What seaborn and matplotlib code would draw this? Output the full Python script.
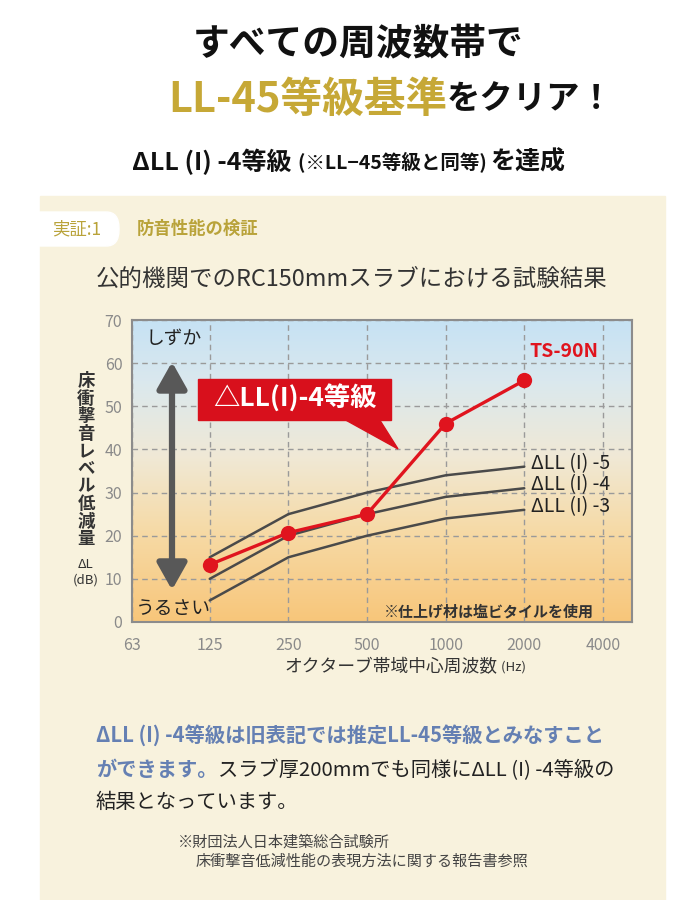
import numpy as np
import pandas as pd
import matplotlib
matplotlib.use('Agg')
import matplotlib.pyplot as plt
import seaborn as sns
from matplotlib.patches import Rectangle, Polygon, FancyBboxPatch
from matplotlib.colors import LinearSegmentedColormap
from matplotlib.ticker import NullLocator, FixedLocator

# データ
freqs = [63, 125, 250, 500, 1000, 2000, 4000]
freq_labels = ['63', '125', '250', '500', '1000', '2000', '4000']
meas_freqs = [125, 250, 500, 1000, 2000]
ts90n = [13.3, 20.7, 25.0, 46.0, 56.0]
grade_names = ['ΔLL (I) -5', 'ΔLL (I) -4', 'ΔLL (I) -3']
grade5 = [15, 25, 30, 34, 36]
grade4 = [10, 20, 25, 29, 31]
grade3 = [5, 15, 20, 24, 26]
yticks = [0, 10, 20, 30, 40, 50, 60, 70]

sns.set_theme(style='white')
plt.rcParams['font.family'] = ['Noto Sans CJK JP', 'DejaVu Sans']

W, H = 700, 900
fig = plt.figure(figsize=(7, 9), dpi=100)
fig.patch.set_facecolor('white')


def fx(px):
    return px / W


def fy(py):
    return 1 - py / H


# クリーム色のパネル
fig.patches.append(Rectangle((fx(40), 0), fx(665) - fx(40), fy(196),
                             transform=fig.transFigure, color='#f8f2dd', zorder=0))
fig.patches.append(FancyBboxPatch((fx(20), fy(246)), fx(119) - fx(20), fy(212) - fy(246),
                                  boxstyle='round,pad=0,rounding_size=0.018',
                                  transform=fig.transFigure, color='white', zorder=0.5))

renderer = fig.canvas.get_renderer()


def runs(parts, x, y, align='left'):
    # 色やサイズの違う文字列を横に並べる
    objs = []
    cx = 0
    for txt, kw in parts:
        t = fig.text(0, fy(y), txt, va='center', ha='left', **kw)
        w = t.get_window_extent(renderer).width / fig.bbox.width
        objs.append((t, cx))
        cx += w
    start = fx(x) - (cx / 2 if align == 'center' else 0)
    for t, off in objs:
        t.set_x(start + off)


# タイトル
runs([('すべての周波数帯で', dict(fontsize=26.5, weight='bold', color='#111'))], 358, 45, 'center')
runs([('LL-45等級基準', dict(fontsize=30, weight='bold', color='#c6a836')),
      ('をクリア！', dict(fontsize=24, weight='bold', color='#111'))], 391, 100, 'center')
runs([('ΔLL (I) -4等級 ', dict(fontsize=18, weight='bold', color='#111')),
      ('(※LL−45等級と同等) ', dict(fontsize=14, weight='bold', color='#111')),
      ('を達成', dict(fontsize=18, weight='bold', color='#111'))], 349, 162, 'center')

runs([('実証:1', dict(fontsize=12.5, color='#b9a33a'))], 52, 229)
runs([('防音性能の検証', dict(fontsize=12.5, weight='bold', color='#b9a33a'))], 137, 229)
runs([('公的機関でのRC150mmスラブにおける試験結果', dict(fontsize=16.9, color='#333'))], 352, 279, 'center')

# グラフ
ax_pos = [fx(132), fy(622), fx(632) - fx(132), fy(320) - fy(622)]
bg = fig.add_axes(ax_pos, zorder=1)
cmap = LinearSegmentedColormap.from_list(
    'bg', [(0, '#f8c67a'), (0.3, '#f6daa6'), (0.55, '#f0e9d6'), (0.8, '#dae8ee'), (1, '#c6e2f4')])
bg.imshow(np.linspace(0, 1, 256)[:, None], cmap=cmap, aspect='auto', origin='lower',
          extent=[0, 1, 0, 1])
bg.set_axis_off()

ax = fig.add_axes(ax_pos, zorder=2)
ax.set_facecolor('none')

df_grades = pd.DataFrame({
    'freq': meas_freqs * 3,
    'dl': grade5 + grade4 + grade3,
    'grade': [g for g in grade_names for _ in meas_freqs],
})
sns.lineplot(data=df_grades, x='freq', y='dl', units='grade', estimator=None,
             color='#4a4a4a', lw=1.8, ax=ax, legend=False)
sns.lineplot(x=meas_freqs, y=ts90n, color='#e0141e', lw=2.4, marker='o',
             markersize=11, markeredgewidth=0, ax=ax, zorder=5)

ax.set_xscale('log', base=2)
ax.set_xlim(63, 4000 * 2 ** 0.37)
ax.set_ylim(0, 70)
ax.xaxis.set_major_locator(FixedLocator(freqs))
ax.xaxis.set_minor_locator(NullLocator())
ax.set_xticklabels(freq_labels)
ax.set_yticks(yticks)
ax.tick_params(length=0, labelsize=11.5, labelcolor='#8a8a8a')
ax.tick_params(axis='x', pad=11)
ax.tick_params(axis='y', pad=7)
ax.grid(True, ls=(0, (4, 3)), color='#9a9a9a', lw=1)
ax.set_xlabel('')
ax.set_ylabel('')
for s in ax.spines.values():
    s.set_color('#8c8c8c')
    s.set_linewidth(1.5)

for name, vals in zip(grade_names, [grade5, grade4, grade3]):
    ax.text(2000 * 1.06, vals[-1] + 0.8, name, fontsize=14, color='#222', va='center')
ax.text(2000 * 1.05, 62.6, 'TS-90N', fontsize=14, weight='bold', color='#e0141e', va='center')
ax.text(0.714, 0.036, '※仕上げ材は塩ビタイルを使用', transform=ax.transAxes, fontsize=10.8,
        weight='bold', color='#333', ha='center', va='center')

# しずか / うるさい 矢印
ax.annotate('', xy=(0.08, 0.861), xytext=(0.08, 0.106), xycoords='axes fraction',
            arrowprops=dict(arrowstyle='<|-|>,head_length=16,head_width=9', mutation_scale=1,
                            lw=4.5, color='#585858', shrinkA=0, shrinkB=0))
ax.text(0.084, 0.94, 'しずか', transform=ax.transAxes, fontsize=13.5, color='#222', ha='center', va='center')
ax.text(0.082, 0.046, 'うるさい', transform=ax.transAxes, fontsize=13.5, color='#222', ha='center', va='center')

# 赤い吹き出し
ax.add_patch(Rectangle((0.132, 0.669), 0.386, 0.136, transform=ax.transAxes,
                       color='#d8101c', zorder=6))
ax.add_patch(Polygon([(0.426, 0.670), (0.495, 0.670), (0.532, 0.573)], closed=True,
                     transform=ax.transAxes, color='#d8101c', zorder=6))
ax.text(0.326, 0.738, '△LL(I)-4等級', transform=ax.transAxes, fontsize=19, weight='bold',
        color='white', ha='center', va='center', zorder=7)

# 縦軸ラベル
for i, ch in enumerate('床衝撃音レベル低減量'):
    fig.text(fx(86), fy(381 + i * 17.6), ch, fontsize=12.5, weight='bold', color='#333',
             ha='center', va='center')
fig.text(fx(86), fy(565), 'ΔL', fontsize=9.5, color='#333', ha='center', va='center')
fig.text(fx(86), fy(580), '(dB)', fontsize=9.5, color='#333', ha='center', va='center')

# 横軸ラベル
runs([('オクターブ帯域中心周波数', dict(fontsize=12.8, color='#333')),
      (' (Hz)', dict(fontsize=9.5, color='#333'))], 405, 667, 'center')

# 説明文
blue = '#6580b3'
runs([('ΔLL (I) -4等級は旧表記では推定LL-45等級とみなすこと',
       dict(fontsize=14.6, weight='bold', color=blue))], 96, 735)
runs([('ができます。', dict(fontsize=14.6, weight='bold', color=blue)),
      ('スラブ厚200mmでも同様にΔLL (I) -4等級の', dict(fontsize=14.6, color='#222'))], 96, 770)
runs([('結果となっています。', dict(fontsize=14.6, color='#222'))], 96, 802)

runs([('※財団法人日本建築総合試験所', dict(fontsize=10.9, color='#444'))], 178, 842)
runs([('床衝撃音低減性能の表現方法に関する報告書参照', dict(fontsize=10.9, color='#444'))], 196, 861)

fig.savefig('out.png', dpi=100)
